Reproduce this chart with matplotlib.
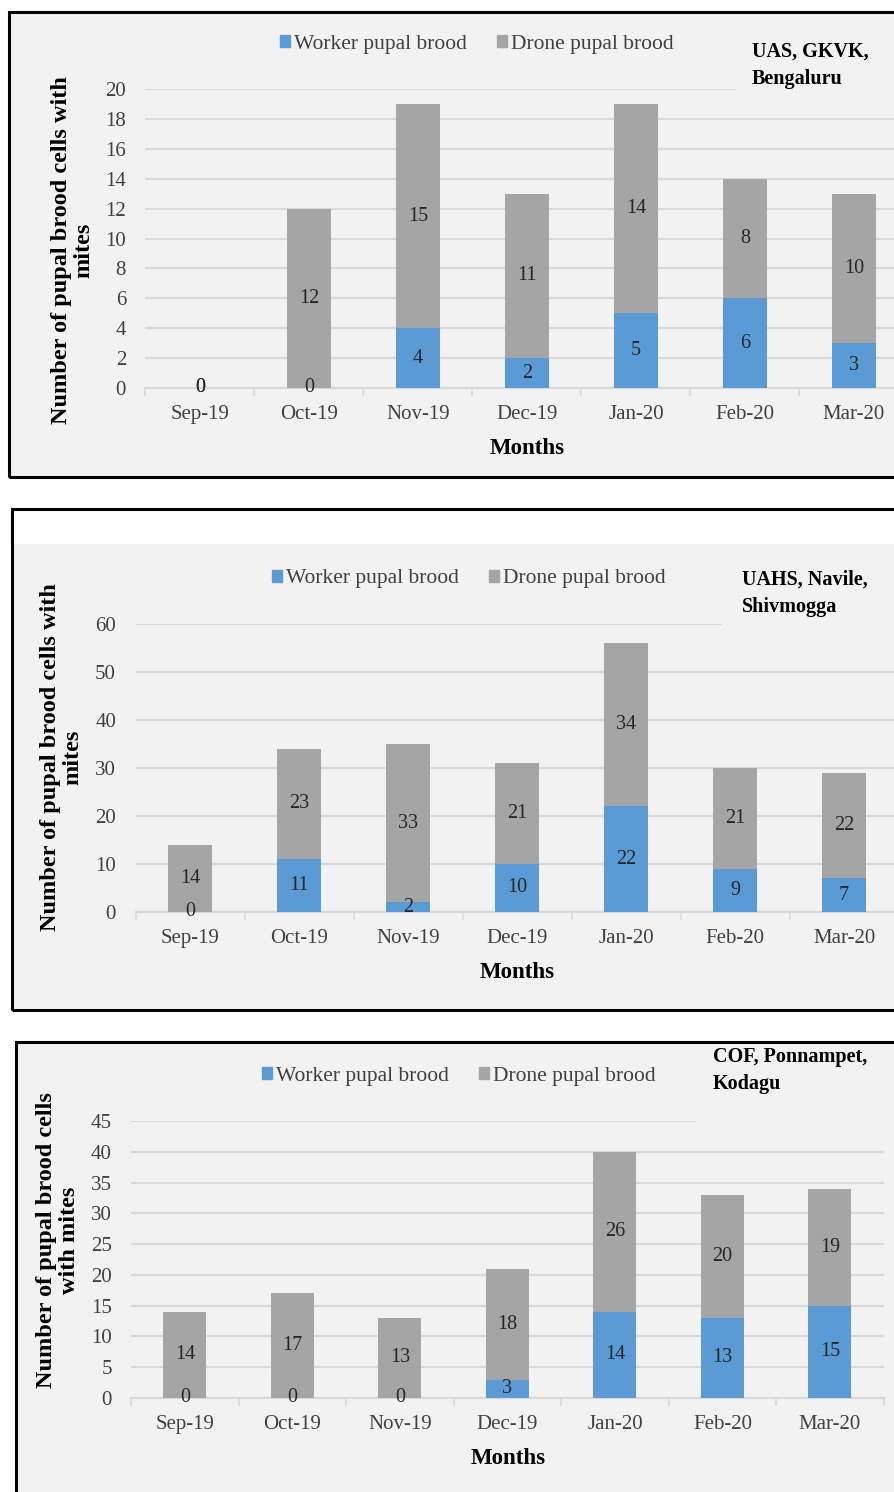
import matplotlib.pyplot as plt
from matplotlib.patches import Rectangle, Patch
import numpy as np

plt.rcParams['font.family'] = ['Liberation Serif', 'DejaVu Serif']

W, H = 895, 1492

meses = ['Sep-19', 'Oct-19', 'Nov-19', 'Dec-19', 'Jan-20', 'Feb-20', 'Mar-20']

# UAS, GKVK, Bengaluru
worker_gkvk = [0, 0, 4, 2, 5, 6, 3]
drone_gkvk = [0, 12, 15, 11, 14, 8, 10]
# UAHS, Navile, Shivmogga
worker_navile = [0, 11, 2, 10, 22, 9, 7]
drone_navile = [14, 23, 33, 21, 34, 21, 22]
# COF, Ponnampet, Kodagu
worker_cof = [0, 0, 0, 3, 14, 13, 15]
drone_cof = [14, 17, 13, 18, 26, 20, 19]

AZUL = '#5b9bd5'
CINZA = '#a5a5a5'
FUNDO = '#f2f2f2'
GRADE = '#d9d9d9'
TXT = '#404040'


def fx(x):
    return x / W


def fy(y):
    return 1 - y / H


fig = plt.figure(figsize=(W / 100, H / 100), dpi=100)


def moldura(x0, y0, x1, y1, y_cinza):
    # fundo branco + cinza e borda preta do painel
    fig.patches.append(Rectangle((fx(x0), fy(y1)), fx(x1 - x0), (y1 - y_cinza) / H,
                                 transform=fig.transFigure, facecolor=FUNDO,
                                 edgecolor='none', zorder=-2))
    fig.patches.append(Rectangle((fx(x0), fy(y1)), fx(x1 - x0), (y1 - y0) / H,
                                 transform=fig.transFigure, facecolor='none',
                                 edgecolor='black', lw=2.2, zorder=10))


def painel(worker, drone, ymax, ystep, cfg):
    esq, passo, y0, ytop = cfg['esq'], cfg['passo'], cfg['y0'], cfg['ytop']
    ax = fig.add_axes([fx(esq), fy(y0), fx(7 * passo), (y0 - ytop) / H])
    ax.set_facecolor('none')
    x = np.arange(len(meses))
    b1 = ax.bar(x, worker, width=0.4, color=AZUL, zorder=3)
    b2 = ax.bar(x, drone, width=0.4, bottom=worker, color=CINZA, zorder=3)
    ax.bar_label(b1, label_type='center', fontsize=14.5, color='#262626', zorder=4)
    ax.bar_label(b2, label_type='center', fontsize=14.5, color='#262626', zorder=4)

    ax.set_xlim(-0.5, 6.5)
    ax.set_ylim(0, ymax)
    ax.set_yticks(np.arange(0, ymax + 1, ystep))
    ax.yaxis.grid(True, color=GRADE, lw=1.6, zorder=0)
    ax.set_axisbelow(True)
    for s in ['top', 'right', 'left']:
        ax.spines[s].set_visible(False)
    ax.spines['bottom'].set_color(GRADE)
    ax.spines['bottom'].set_linewidth(1.6)
    ax.spines['bottom'].set_zorder(1)

    ax.set_xticks(x)
    ax.set_xticklabels(meses, fontsize=15, color=TXT)
    ax.set_xticks(np.arange(-0.5, 7, 1), minor=True)
    ax.tick_params(axis='x', which='major', length=0, pad=cfg['xpad'])
    ax.tick_params(axis='x', which='minor', length=6, width=1.2, color=GRADE)
    ax.tick_params(axis='y', length=0, labelsize=15, labelcolor=TXT, pad=cfg['ypad'])

    fig.text(fx(cfg['meses_x']), fy(cfg['meses_y']), 'Months', fontsize=16.5,
             fontweight='bold', ha='center', va='center')
    fig.text(fx(cfg['ylab_x']), fy(cfg['ylab_y']), cfg['ylab'], fontsize=17.5,
             fontweight='bold', rotation=90, ha='center', va='center',
             linespacing=1.1)

    # cobre o fim da grade superior atras do nome do local
    fig.patches.append(Rectangle((fx(cfg['cob_x']), fy(cfg['cob_y1'])),
                                 fx(W - cfg['cob_x']), (cfg['cob_y1'] - cfg['cob_y0']) / H,
                                 transform=fig.transFigure, facecolor=FUNDO,
                                 edgecolor='none', zorder=5))
    fig.text(fx(cfg['loc_x']), fy(cfg['loc_y']), cfg['local'], fontsize=14.5,
             fontweight='bold', ha='left', va='top', linespacing=1.45, zorder=6)

    handles = [Patch(color=AZUL), Patch(color=CINZA)]
    fig.legend(handles, ['Worker pupal brood', 'Drone pupal brood'], ncol=2,
               loc='center', bbox_to_anchor=(fx(cfg['leg_x']), fy(cfg['leg_y'])),
               frameon=False, fontsize=15.5, handlelength=0.45, handleheight=0.45,
               handletextpad=0.2, columnspacing=1.4, labelcolor=TXT)
    return ax


moldura(9, 12, 905, 477, 12)
moldura(12, 509, 905, 1010, 544)
moldura(16, 1042, 905, 1510, 1042)

painel(worker_gkvk, drone_gkvk, 20, 2, dict(
    esq=145.5, passo=109, y0=388, ytop=89, xpad=12, ypad=14,
    meses_x=527, meses_y=448, ylab_x=73, ylab_y=250,
    ylab='Number of pupal brood cells with\nmites',
    cob_x=736, cob_y0=35, cob_y1=100, loc_x=752, loc_y=42,
    local='UAS, GKVK,\nBengaluru', leg_x=477, leg_y=44))

painel(worker_navile, drone_navile, 60, 10, dict(
    esq=135.5, passo=109, y0=912, ytop=624, xpad=12, ypad=14,
    meses_x=517, meses_y=972, ylab_x=62, ylab_y=757,
    ylab='Number of pupal brood cells with\nmites',
    cob_x=722, cob_y0=560, cob_y1=632, loc_x=742, loc_y=570,
    local='UAHS, Navile,\nShivmogga', leg_x=469, leg_y=579))

painel(worker_cof, drone_cof, 45, 5, dict(
    esq=131.25, passo=107.5, y0=1398, ytop=1121, xpad=12, ypad=14,
    meses_x=508, meses_y=1458, ylab_x=58, ylab_y=1240,
    ylab='Number of pupal brood cells\nwith mites',
    cob_x=696, cob_y0=1050, cob_y1=1128, loc_x=713, loc_y=1047,
    local='COF, Ponnampet,\nKodagu', leg_x=459, leg_y=1076))

fig.savefig('out.png', dpi=100)
